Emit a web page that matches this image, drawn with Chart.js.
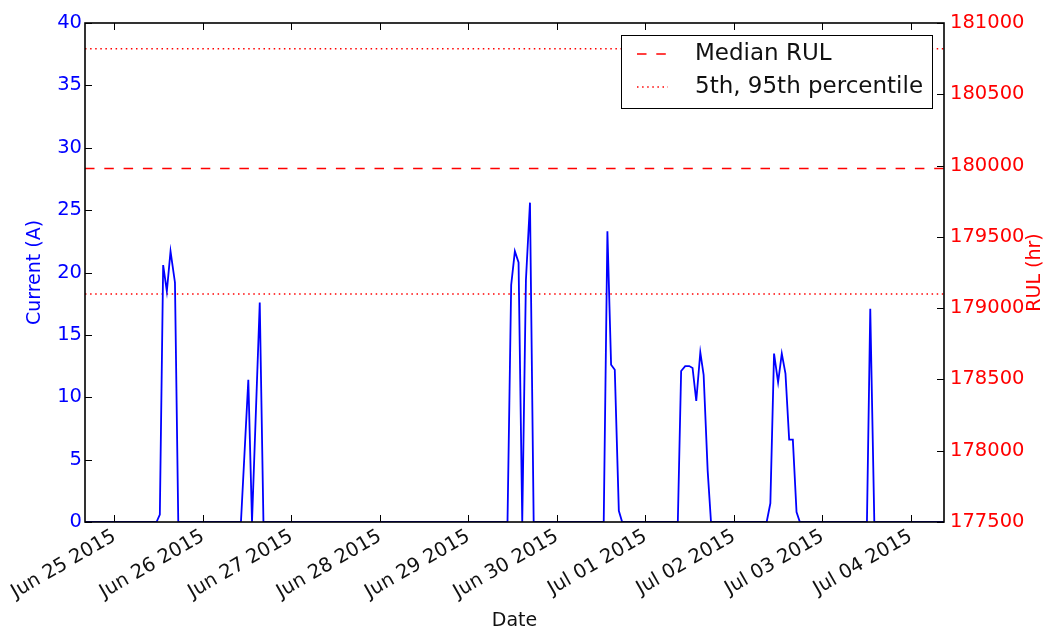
<!DOCTYPE html>
<html>
<head>
<meta charset="utf-8">
<title>Current and RUL</title>
<script src="https://cdn.jsdelivr.net/npm/chart.js@4.4.1/dist/chart.umd.min.js"></script>
<style>
    html, body { margin: 0; padding: 0; background: #fff; }
    #wrap { width: 1047px; height: 632px; }
</style>
</head>
<body>
<div id="wrap"><canvas id="rulChart"></canvas></div>
<script>
// x values are hours since Jun 25 2015 00:00
const dateLabels = ['Jun 25 2015', 'Jun 26 2015', 'Jun 27 2015', 'Jun 28 2015', 'Jun 29 2015',
    'Jun 30 2015', 'Jul 01 2015', 'Jul 02 2015', 'Jul 03 2015', 'Jul 04 2015'];
const tickHours = [0, 24, 48, 72, 96, 120, 144, 168, 192, 216];

const timeHours = [-8, 11.4, 12.3, 13.2, 14.2, 15.2, 16.4, 17.3,
    34.3, 36.3, 37.3, 39.4, 40.4,
    106.6, 107.6, 108.6, 109.6, 110.6, 111.6, 112.7, 113.7,
    132.7, 133.7, 134.7, 135.7, 136.8, 137.7,
    152.8, 153.7, 154.8, 155.9, 156.8, 157.8, 158.9, 159.8, 160.9, 161.8,
    176.9, 177.9, 178.9, 180.0, 181.0, 182.0, 183.0, 184.0, 185.0, 185.9,
    204.1, 205.0, 206.1, 225];
const currentAmps = [0, 0, 0.6, 20.6, 18.5, 21.7, 19.2, 0,
    0, 11.4, 0, 17.6, 0,
    0, 19.0, 21.7, 20.8, 0, 19.4, 25.6, 0,
    0, 23.3, 12.6, 12.2, 0.9, 0,
    0, 12.1, 12.5, 12.5, 12.35, 9.7, 13.6, 11.8, 4.1, 0,
    0, 1.5, 13.5, 11.2, 13.5, 11.9, 6.6, 6.6, 0.8, 0,
    0, 17.1, 0, 0];

const rulHours = [-8, 225];
const medianRul = [179980, 179980];
const upperRul = [180820, 180820];
const lowerRul = [179100, 179100];

const BLUE = '#0000ff';
const RED = '#ff0000';
const FONT = "'DejaVu Sans', sans-serif";

function toPoints(xs, ys) {
    return xs.map((x, i) => ({ x: x, y: ys[i] }));
}

// frame, inward ticks, right axis title and legend, drawn like matplotlib
const framePlugin = {
    id: 'frame',
    afterDatasetsDraw(chart) {
        const { ctx, chartArea: a, scales } = chart;
        const len = 7;
        ctx.save();
        ctx.strokeStyle = '#000';
        ctx.lineWidth = 1;
        ctx.beginPath();
        scales.x.ticks.forEach(t => {
            const px = Math.round(scales.x.getPixelForValue(t.value)) + 0.5;
            ctx.moveTo(px, a.bottom); ctx.lineTo(px, a.bottom - len);
            ctx.moveTo(px, a.top); ctx.lineTo(px, a.top + len);
        });
        scales.y.ticks.forEach(t => {
            const py = Math.round(scales.y.getPixelForValue(t.value)) + 0.5;
            ctx.moveTo(a.left, py); ctx.lineTo(a.left + len, py);
        });
        scales.y2.ticks.forEach(t => {
            const py = Math.round(scales.y2.getPixelForValue(t.value)) + 0.5;
            ctx.moveTo(a.right, py); ctx.lineTo(a.right - len, py);
        });
        ctx.stroke();
        ctx.lineWidth = 1.6;
        ctx.strokeRect(a.left, a.top, a.right - a.left, a.bottom - a.top);

        // right axis title, reading bottom to top
        ctx.fillStyle = RED;
        ctx.font = '19px ' + FONT;
        ctx.textAlign = 'center';
        ctx.textBaseline = 'middle';
        ctx.translate(1035, (a.top + a.bottom) / 2);
        ctx.rotate(-Math.PI / 2);
        ctx.fillText('RUL (hr)', 0, 0);
        ctx.setTransform(1, 0, 0, 1, 0, 0);

        // legend
        const bw = 311, bh = 73;
        const bx = a.right - 12 - bw, by = a.top + 12;
        ctx.fillStyle = '#fff';
        ctx.fillRect(bx, by, bw, bh);
        ctx.lineWidth = 1;
        ctx.strokeStyle = '#000';
        ctx.strokeRect(bx + 0.5, by + 0.5, bw, bh);
        const rows = [
            { text: 'Median RUL', dash: [9.5, 9.8], y: by + 19 },
            { text: '5th, 95th percentile', dash: [1.5, 3.6], y: by + 52 }
        ];
        ctx.font = '23px ' + FONT;
        ctx.textAlign = 'left';
        rows.forEach(r => {
            ctx.strokeStyle = RED;
            ctx.lineWidth = 1.5;
            ctx.setLineDash(r.dash);
            ctx.beginPath();
            ctx.moveTo(bx + 16, r.y);
            ctx.lineTo(bx + 47, r.y);
            ctx.stroke();
            ctx.setLineDash([]);
            ctx.fillStyle = '#111';
            ctx.fillText(r.text, bx + 74, r.y);
        });
        ctx.restore();
    }
};

const noGrid = { display: false, drawTicks: false, tickLength: 0 };

const ctx = document.getElementById('rulChart').getContext('2d');
new Chart(ctx, {
    type: 'line',
    data: {
        datasets: [
            { label: 'Current', data: toPoints(timeHours, currentAmps), yAxisID: 'y',
              borderColor: BLUE, borderWidth: 1.8, pointRadius: 0, tension: 0 },
            { label: 'Median RUL', data: toPoints(rulHours, medianRul), yAxisID: 'y2',
              borderColor: RED, borderWidth: 1.5, borderDash: [9.5, 9.8], pointRadius: 0 },
            { label: '95th percentile', data: toPoints(rulHours, upperRul), yAxisID: 'y2',
              borderColor: RED, borderWidth: 1.5, borderDash: [1.5, 3.6], pointRadius: 0 },
            { label: '5th percentile', data: toPoints(rulHours, lowerRul), yAxisID: 'y2',
              borderColor: RED, borderWidth: 1.5, borderDash: [1.5, 3.6], pointRadius: 0 }
        ]
    },
    options: {
        responsive: true,
        maintainAspectRatio: false,
        animation: false,
        layout: { padding: { top: 23, left: 0, right: 0, bottom: 0 } },
        plugins: { legend: { display: false }, tooltip: { enabled: false } },
        scales: {
            x: {
                type: 'linear', min: -8, max: 225,
                afterBuildTicks: s => { s.ticks = tickHours.map(v => ({ value: v })); },
                afterFit: s => { s.height = 110; },
                grid: noGrid, border: { display: false },
                ticks: {
                    autoSkip: false, minRotation: 30, maxRotation: 30, padding: 3, labelOffset: 0,
                    color: '#111', font: { family: FONT, size: 19.5 },
                    callback: v => dateLabels[tickHours.indexOf(v)]
                },
                title: { display: true, text: 'Date', color: '#111', padding: 0,
                         font: { family: FONT, size: 19 } }
            },
            y: {
                position: 'left', min: 0, max: 40,
                afterFit: s => { s.width = 85; },
                grid: noGrid, border: { display: false },
                ticks: { stepSize: 5, padding: 3, color: BLUE, font: { family: FONT, size: 19.5 } },
                title: { display: true, text: 'Current (A)', color: BLUE, padding: { top: 24 },
                         font: { family: FONT, size: 19 } }
            },
            y2: {
                position: 'right', min: 177500, max: 181000,
                afterFit: s => { s.width = 103; },
                grid: noGrid, border: { display: false },
                ticks: { stepSize: 500, padding: 6, color: RED, font: { family: FONT, size: 19.5 },
                         callback: v => String(v) }
            }
        }
    },
    plugins: [framePlugin]
});
</script>
</body>
</html>
